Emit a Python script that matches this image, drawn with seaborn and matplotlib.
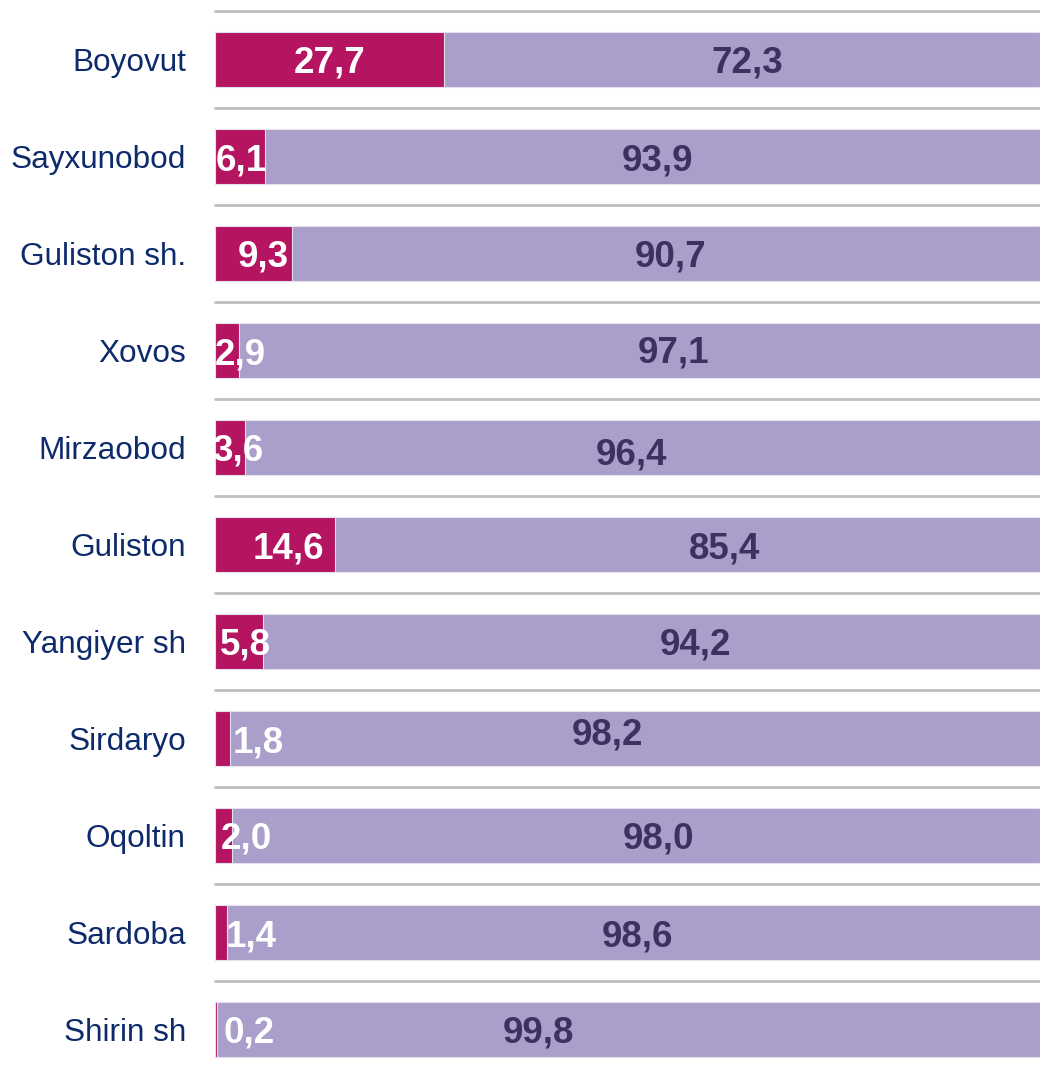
import matplotlib
matplotlib.use("Agg")
import matplotlib.pyplot as plt
import seaborn as sns
import pandas as pd

categories = ["Boyovut", "Sayxunobod", "Guliston sh.", "Xovos", "Mirzaobod", "Guliston",
              "Yangiyer sh", "Sirdaryo", "Oqoltin", "Sardoba", "Shirin sh"]
share_a = [27.7, 6.1, 9.3, 2.9, 3.6, 14.6, 5.8, 1.8, 2.0, 1.4, 0.2]
share_b = [72.3, 93.9, 90.7, 97.1, 96.4, 85.4, 94.2, 98.2, 98.0, 98.6, 99.8]

# label nudges (pixels) relative to segment centres, as placed in the original
nudge_a_x = [0, 1, 10, 13, 8, 13, 6, 36, 23, 30, 33]
nudge_b_x = [5, 5, 5, 34, -11, 37, 44, -27, 23, 4, -90]
nudge_b_y = [-4, -4, -4, -3, -7, -5, -3, 3, -3, -4, -4]

sns.set_theme(style="white")
plt.rcParams['font.family'] = ['Liberation Sans', 'DejaVu Sans']

df = pd.DataFrame({"cat": categories, "a": share_a, "b": share_b})
df["total"] = df["a"] + df["b"]

MAGENTA = "#B41460"
LAVENDER = "#A99FCA"
DARK = "#3E3160"
NAVY = "#0D2A6B"

fig = plt.figure(figsize=(10.4, 10.7), dpi=100)
ax = fig.add_axes([215/1040, -8/1070, 1 - 215/1040, (1078 - 11)/1070])

sns.barplot(data=df, y="cat", x="total", orient="h", color=LAVENDER, saturation=1,
            width=0.57, edgecolor="#E4E0EE", linewidth=0.8, ax=ax)
sns.barplot(data=df, y="cat", x="a", orient="h", color=MAGENTA, saturation=1,
            width=0.57, edgecolor="#E4E0EE", linewidth=0.8, ax=ax)

ax.set_xlim(0, 100)
ax.set_ylim(len(categories) - 0.5, -0.5)
for i in range(len(categories) + 1):
    ax.axhline(i - 0.5, color="#BFBFBF", lw=2, zorder=0, clip_on=False)

for i, (a, b) in enumerate(zip(share_a, share_b)):
    ax.annotate(f"{a:.1f}".replace(".", ","), xy=(a / 2, i),
                xytext=(nudge_a_x[i], -4), textcoords="offset pixels",
                ha="center", va="center", color="white", fontsize=26.5, fontweight="bold")
    ax.annotate(f"{b:.1f}".replace(".", ","), xy=(a + b / 2, i),
                xytext=(nudge_b_x[i], nudge_b_y[i]), textcoords="offset pixels",
                ha="center", va="center", color=DARK, fontsize=26.5, fontweight="bold")

ax.set_xlabel("")
ax.set_ylabel("")
ax.set_xticks([])
ax.tick_params(axis="y", length=0, pad=21, labelsize=22.7, labelcolor=NAVY)
for s in ax.spines.values():
    s.set_visible(False)

fig.savefig("out.png", dpi=100)
